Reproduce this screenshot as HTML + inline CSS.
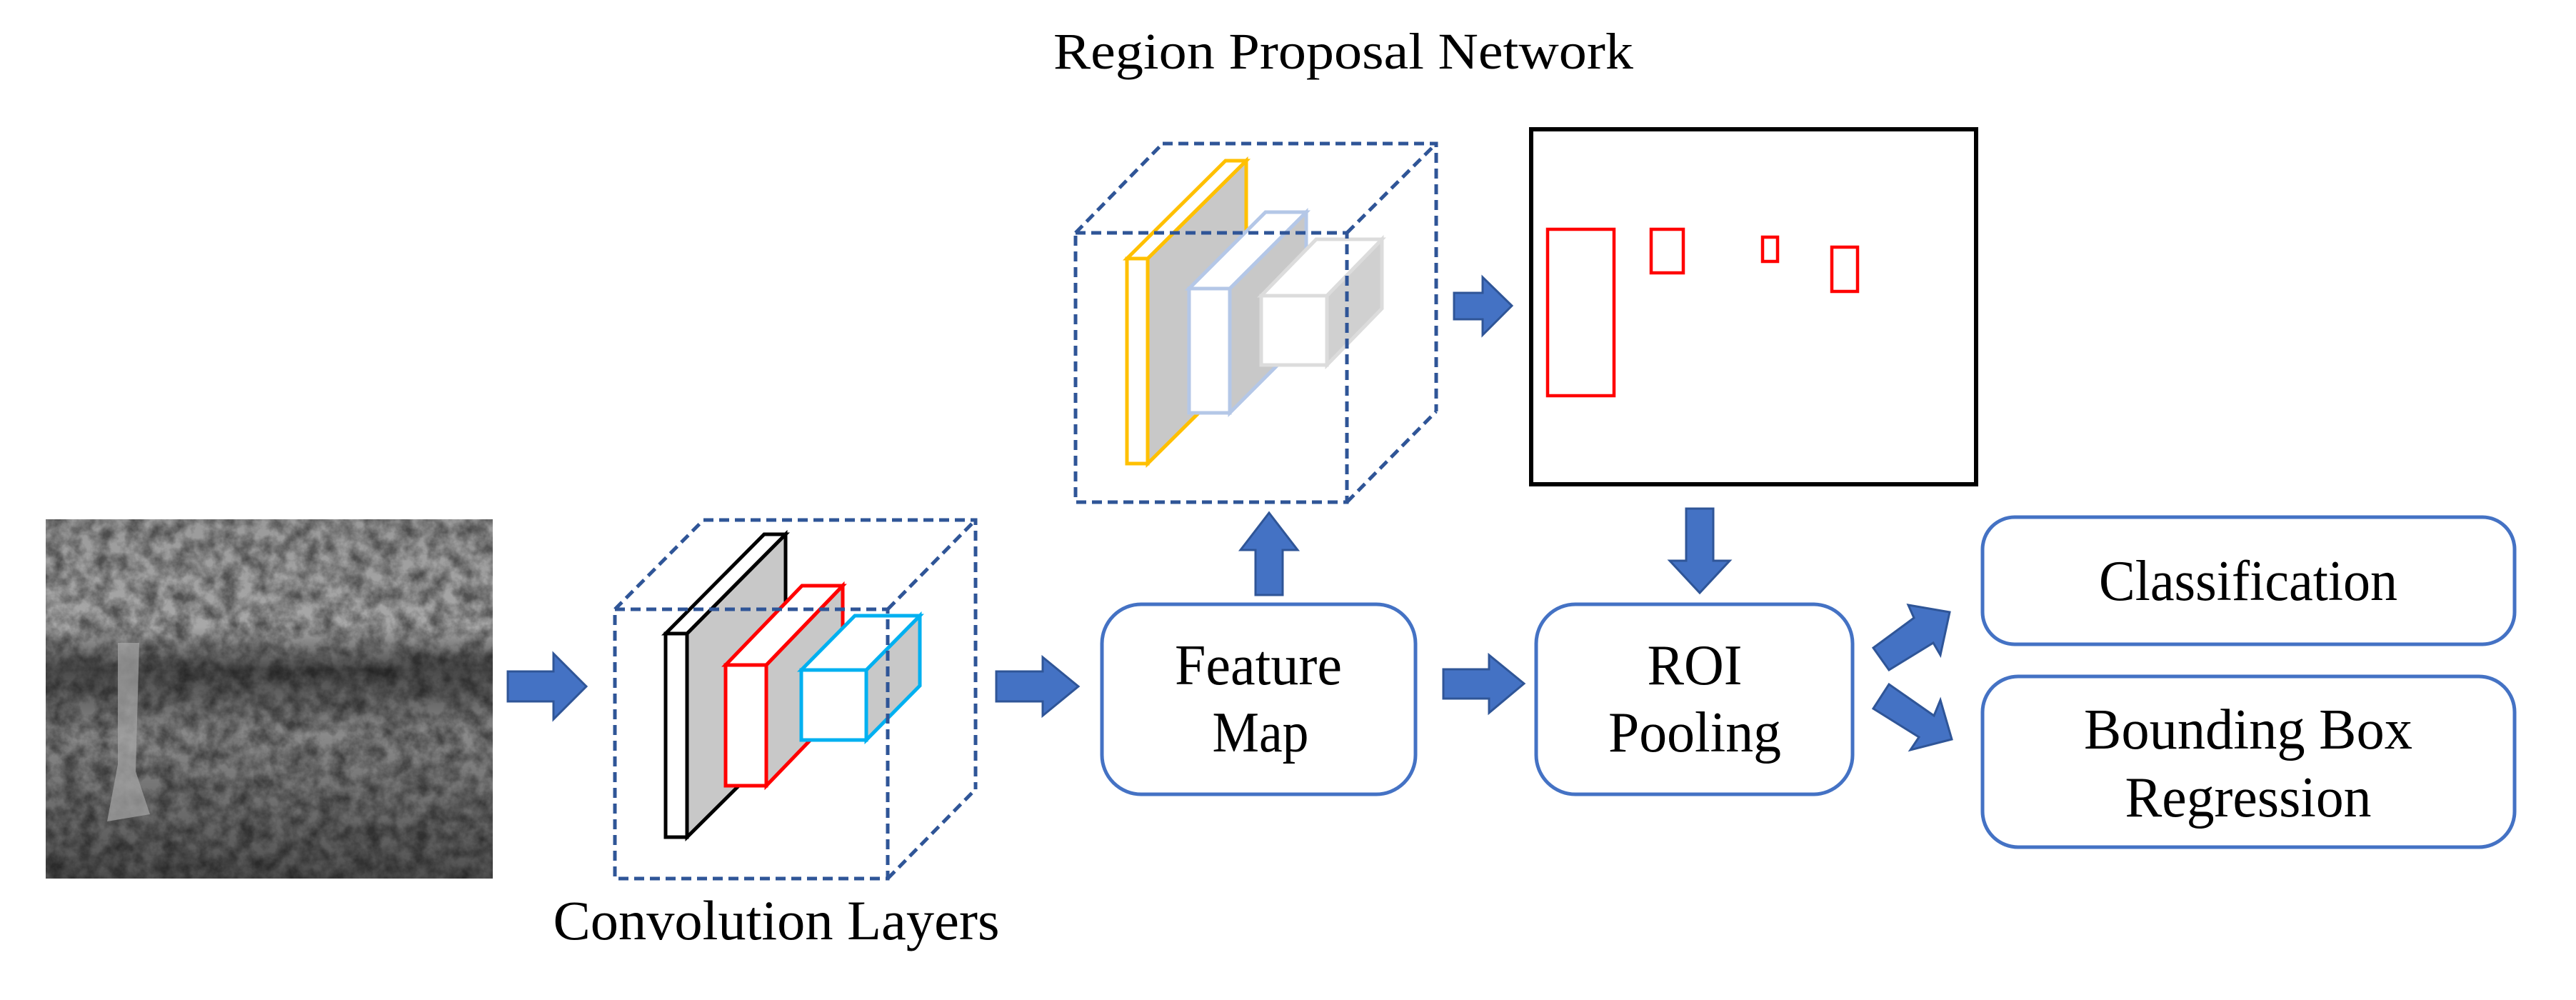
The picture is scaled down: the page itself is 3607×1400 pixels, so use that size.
<!DOCTYPE html>
<html><head><meta charset="utf-8"><style>
html,body{margin:0;padding:0;background:#fff;}
svg{display:block;}
text{font-family:"Liberation Serif",serif;fill:#000;}
</style></head><body>
<svg width="3607" height="1400" viewBox="0 0 3607 1400" xmlns="http://www.w3.org/2000/svg">
<defs>
<filter id="tx" x="0" y="0" width="100%" height="100%">
<feTurbulence type="fractalNoise" baseFrequency="0.045" numOctaves="4" seed="3"/>
<feColorMatrix type="matrix" values="0 0 0 0 0  0 0 0 0 0  0 0 0 0 0  0 0 0 -1.8 1.3"/>
</filter>
<linearGradient id="pg" x1="0" y1="0" x2="0" y2="1">
<stop offset="0" stop-color="#9a9a9a"/>
<stop offset="0.3" stop-color="#a8a8a8"/>
<stop offset="0.42" stop-color="#4a4a4a"/>
<stop offset="0.6" stop-color="#8a8a8a"/>
<stop offset="1" stop-color="#505050"/>
</linearGradient>
</defs>

<rect x="64" y="727" width="626" height="503" fill="url(#pg)"/>
<rect x="64" y="727" width="626" height="503" fill="#000" filter="url(#tx)" opacity="0.5"/>
<path d="M165 900 L195 900 L190 1080 L210 1140 L150 1150 L165 1070 Z" fill="#a8a8a8" opacity="0.7"/>

<g fill="#4472c4" stroke="#2f5597" stroke-width="3" stroke-linejoin="miter">
<polygon points="711,940 775,940 775,915 821,961 775,1007 775,982 711,982"/>
<polygon points="1395,940 1460,940 1460,920 1510,961 1460,1002 1460,982 1395,982"/>
<polygon points="2021,937 2085,937 2085,917 2134,957 2085,998 2085,978 2021,978"/>
<polygon points="2036,410 2076,410 2076,388 2117,428 2076,469 2076,447 2036,447"/>
<polygon points="1758,833 1758,770 1737,770 1777,718 1817,770 1796,770 1796,833"/>
<polygon points="2361,712 2399,712 2399,785 2422,785 2380,830 2338,785 2361,785"/>
<polygon points="2623,907 2645,938 2707,900 2717,917 2730,857 2672,847 2680,865"/>
<polygon points="2623,992 2645,958 2708,1002 2717,980 2733,1035 2675,1050 2687,1032"/>
</g>

<g stroke-width="5" stroke-linejoin="miter">
<g stroke="#000">
<polygon points="962,887 1100,748 1100,1035 962,1172" fill="#c8c8c8"/>
<polygon points="932,887 1070,748 1100,748 962,887" fill="#fff"/>
<rect x="932" y="887" width="30" height="285" fill="#fff"/>
</g>
<g stroke="#ff0000">
<polygon points="1073,931 1180,820 1180,989 1073,1100" fill="#c8c8c8"/>
<polygon points="1016,931 1123,820 1180,820 1073,931" fill="#fff"/>
<rect x="1016" y="931" width="57" height="169" fill="#fff"/>
</g>
<g stroke="#00b0f0">
<polygon points="1213,938 1288,862 1288,960 1213,1036" fill="#c8c8c8"/>
<polygon points="1122,938 1197,862 1288,862 1213,938" fill="#fff"/>
<rect x="1122" y="938" width="91" height="98" fill="#fff"/>
</g>
</g>
<g fill="none" stroke="#2f5597" stroke-width="5" stroke-dasharray="14 8">
<rect x="861" y="853" width="382" height="377"/>
<polyline points="985,728 1366,728 1366,1105"/>
<line x1="861" y1="853" x2="985" y2="728"/>
<line x1="1243" y1="853" x2="1366" y2="728"/>
<line x1="1243" y1="1230" x2="1366" y2="1105"/>
</g>

<g stroke-width="5">
<g stroke="#ffc000">
<polygon points="1607,362 1745,225 1745,512 1607,649" fill="#c8c8c8"/>
<polygon points="1578,362 1716,225 1745,225 1607,362" fill="#fff"/>
<rect x="1578" y="362" width="29" height="287" fill="#fff"/>
</g>
<g stroke="#b4c7e7">
<polygon points="1722,404 1829,297 1829,471 1722,578" fill="#c8c8c8"/>
<polygon points="1665,404 1772,297 1829,297 1722,404" fill="#fff"/>
<rect x="1665" y="404" width="57" height="174" fill="#fff"/>
</g>
<g stroke="#dcdcdc">
<polygon points="1858,414 1935,335 1935,432 1858,511" fill="#d0d0d0"/>
<polygon points="1766,414 1843,335 1935,335 1858,414" fill="#fff"/>
<rect x="1766" y="414" width="92" height="97" fill="#fff"/>
</g>
</g>
<g fill="none" stroke="#2f5597" stroke-width="5" stroke-dasharray="14 8">
<rect x="1506" y="326" width="380" height="377"/>
<polyline points="1628,201 2011,201 2011,576"/>
<line x1="1506" y1="326" x2="1628" y2="201"/>
<line x1="1886" y1="326" x2="2011" y2="201"/>
<line x1="1886" y1="703" x2="2011" y2="576"/>
</g>

<rect x="2144" y="181" width="623" height="497" fill="#fff" stroke="#000" stroke-width="6"/>
<g fill="none" stroke="#ff0000" stroke-width="4.5">
<rect x="2167" y="321" width="93" height="233"/>
<rect x="2312" y="321" width="45" height="61"/>
<rect x="2468" y="332" width="21" height="34"/>
<rect x="2565" y="346" width="36" height="62"/>
</g>

<g fill="none" stroke="#4472c4" stroke-width="5">
<rect x="1543" y="846" width="439" height="266" rx="55"/>
<rect x="2151" y="846" width="443" height="266" rx="55"/>
<rect x="2776" y="724" width="745" height="178" rx="45"/>
<rect x="2776" y="947" width="745" height="239" rx="50"/>
</g>

<g font-size="80" text-anchor="middle">
<text x="1881" y="96" font-size="72" textLength="812" lengthAdjust="spacingAndGlyphs">Region Proposal Network</text>
<text x="1087" y="1315" font-size="78" textLength="625" lengthAdjust="spacingAndGlyphs">Convolution Layers</text>
<text x="1762" y="958" textLength="234" lengthAdjust="spacingAndGlyphs">Feature</text>
<text x="1765" y="1052" textLength="135" lengthAdjust="spacingAndGlyphs">Map</text>
<text x="2373" y="958" textLength="133" lengthAdjust="spacingAndGlyphs">ROI</text>
<text x="2373" y="1052" textLength="242" lengthAdjust="spacingAndGlyphs">Pooling</text>
<text x="3148" y="840" textLength="418" lengthAdjust="spacingAndGlyphs">Classification</text>
<text x="3148" y="1048" textLength="460" lengthAdjust="spacingAndGlyphs">Bounding Box</text>
<text x="3148" y="1143" textLength="345" lengthAdjust="spacingAndGlyphs">Regression</text>
</g>
</svg>
</body></html>
